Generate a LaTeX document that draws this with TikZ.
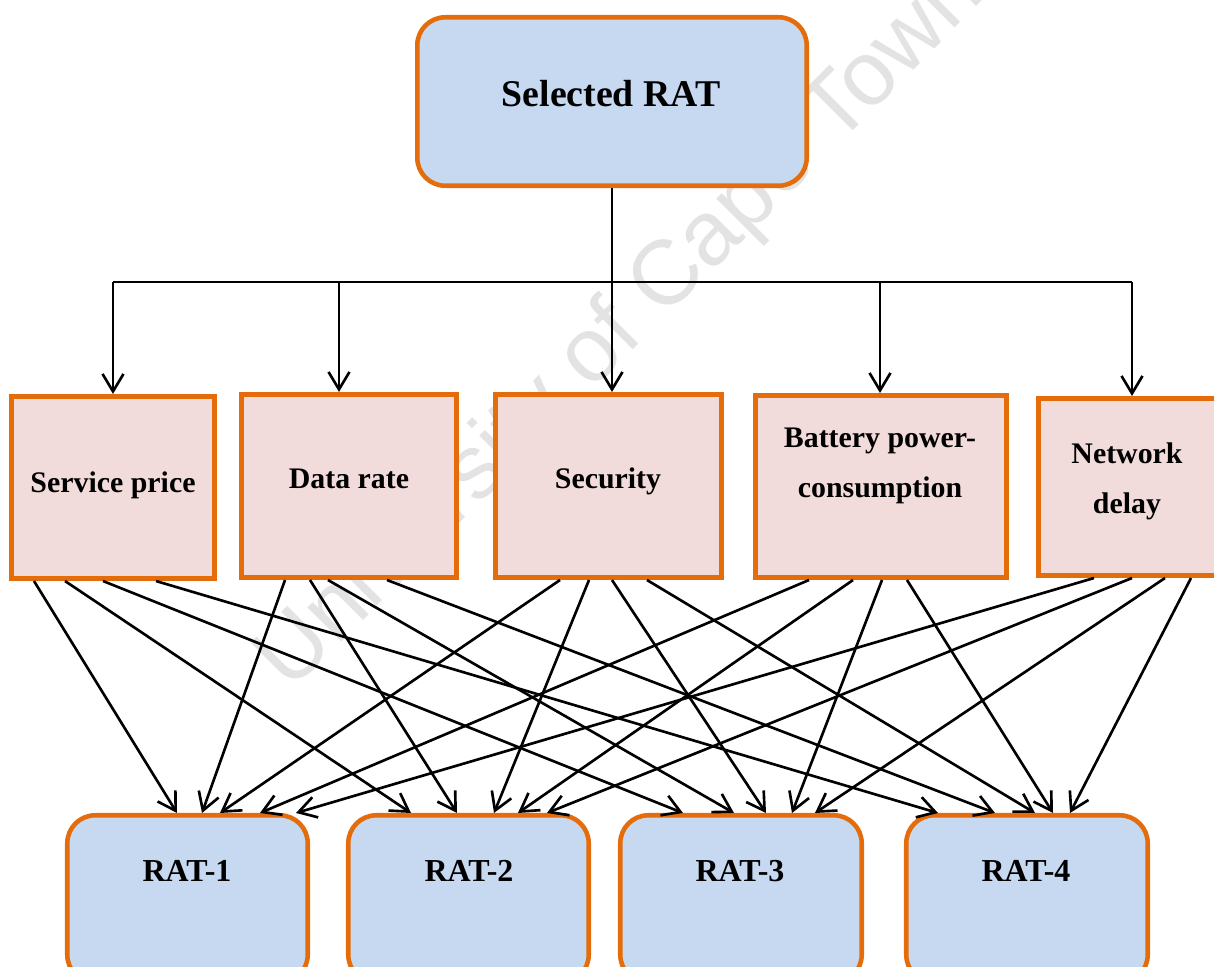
\documentclass[tikz,border=0pt]{standalone}
\usepackage{fontspec}
\setmainfont{Liberation Serif}
\newfontfamily\wmfont{Liberation Sans}
\usetikzlibrary{arrows.meta,calc}
\definecolor{boxorange}{RGB}{228,108,10}
\definecolor{ratblue}{RGB}{198,217,240}
\definecolor{critpink}{RGB}{242,220,219}
\newcommand\lnk[4]{\draw[arr] (#2,0 |- #1.south) -- (#4,0 |- #3.north);}
\begin{document}
\begin{tikzpicture}[x=0.02cm,y=-0.02cm,
  box/.style={draw=boxorange, line width=2.6pt, inner sep=0pt},
  ratbox/.style={box, fill=ratblue, rounded corners=0.56cm},
  critbox/.style={box, fill=critpink},
  ctext/.style={font=\bfseries\fontsize{17}{28.45}\selectfont, align=center},
  rtext/.style={font=\bfseries\fontsize{18.2}{22}\selectfont, anchor=base},
  conn/.style={line width=1.6pt},
  arr/.style={line width=1.5pt, -{Straight Barb[length=0.35cm,width=0.42cm]}},
]
\useasboundingbox (0,0) rectangle (1214,967);
\clip (0,0) rectangle (1214,967);

% watermark
\node[font=\wmfont\fontsize{52}{60}\selectfont, text=black!11, rotate=45] (wm) at (622,328) {University of Cape Town};

% top box
\node[ratbox, minimum width=7.79cm, minimum height=3.37cm] (sel) at (612,101.5) {};
\node[font=\bfseries\fontsize{21.5}{25}\selectfont, anchor=base] (selt) at (611,106) {Selected RAT};

% criteria
\node[critbox, minimum width=4.07cm, minimum height=3.65cm] (sp) at (113,487.5) {};
\node[ctext, anchor=base] (spt) at (113,492) {Service price};
\node[critbox, minimum width=4.31cm, minimum height=3.67cm] (dr) at (349,486) {};
\node[ctext, anchor=base] (drt) at (349,488) {Data rate};
\node[critbox, minimum width=4.53cm, minimum height=3.67cm] (sec) at (608.5,486) {};
\node[ctext, anchor=base] (sect) at (608,488) {Security};
\node[critbox, minimum width=5.03cm, minimum height=3.65cm] (bp) at (881,486.5) {};
\node[ctext] (bpt) at (880,466) {Battery power-\\consumption};
\node[critbox, minimum width=3.79cm, minimum height=3.55cm] (nd) at (1133,487) {};
\node[ctext] (ndt) at (1127,481) {Network\\delay};

% RATs
\node[ratbox, minimum width=4.81cm, minimum height=3.35cm] (r1) at (187.5,899) {};
\node[rtext] (r1t) at (187,881) {RAT-1};
\node[ratbox, minimum width=4.81cm, minimum height=3.35cm] (r2) at (468.5,899) {};
\node[rtext] (r2t) at (469,881) {RAT-2};
\node[ratbox, minimum width=4.83cm, minimum height=3.35cm] (r3) at (741,899) {};
\node[rtext] (r3t) at (740,881) {RAT-3};
\node[ratbox, minimum width=4.83cm, minimum height=3.35cm] (r4) at (1027,899) {};
\node[rtext] (r4t) at (1026,881) {RAT-4};

% bus
\coordinate (busL) at (sp.north |- 0,282);
\coordinate (busR) at (1132,282);
\draw[conn] (busL) -- (busR);
\draw[arr] (sel.south) -- (sel.south |- sec.north);
\draw[arr] (busL) -- (busL |- sp.north);
\draw[arr] (339,0 |- busL) -- (339,0 |- dr.north);
\draw[arr] (880,0 |- busL) -- (880,0 |- bp.north);
\draw[arr] (busR) -- (busR |- nd.north);

% criteria -> RATs
\lnk{sp}{34}{r1}{177}
\lnk{sp}{65}{r2}{411}
\lnk{sp}{103}{r3}{683}
\lnk{sp}{156}{r4}{938}
\lnk{dr}{285}{r1}{202}
\lnk{dr}{310}{r2}{457}
\lnk{dr}{328}{r3}{734}
\lnk{dr}{387}{r4}{995}
\lnk{sec}{560}{r1}{220}
\lnk{sec}{589}{r2}{494}
\lnk{sec}{612}{r3}{766}
\lnk{sec}{647}{r4}{1035}
\lnk{bp}{809}{r1}{260}
\lnk{bp}{853}{r2}{518}
\lnk{bp}{882}{r3}{792}
\lnk{bp}{907}{r4}{1053}
\lnk{nd}{1094}{r1}{296}
\lnk{nd}{1132}{r2}{547}
\lnk{nd}{1165}{r3}{815}
\lnk{nd}{1191}{r4}{1070}
\end{tikzpicture}
\end{document}
